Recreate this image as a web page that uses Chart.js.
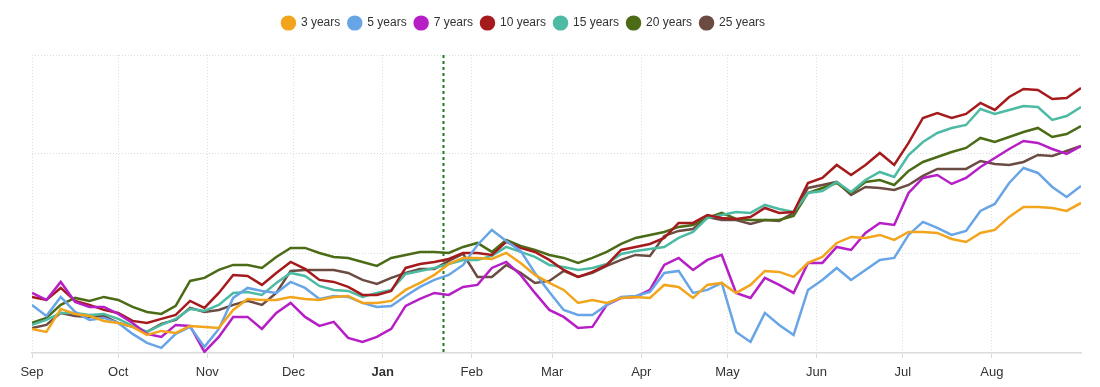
<!DOCTYPE html>
<html>
<head>
<meta charset="utf-8">
<title>Yields by maturity</title>
<script src="https://cdn.jsdelivr.net/npm/chart.js"></script>
<style>
  html, body { margin: 0; padding: 0; background: #fff; }
  #wrap { width: 1100px; height: 387px; position: relative; }
</style>
</head>
<body>
<div id="wrap"><canvas id="chart"></canvas></div>
<script>
/* days since 1 Sep, sampled every 5 days */
const DAYS = [];
for (let d = 0; d <= 360; d += 5) DAYS.push(d);
DAYS.push(365);

const MONTH_DAYS = [0, 30, 61, 91, 122, 153, 181, 212, 242, 273, 303, 334];
const MONTH_LABELS = ["Sep", "Oct", "Nov", "Dec", "Jan", "Feb", "Mar", "Apr", "May", "Jun", "Jul", "Aug"];
const Y_GRID = [0, 99, 199, 298];
const MARKER_DAY = 143;

const SERIES_NAMES = ["3 years", "5 years", "7 years", "10 years", "15 years", "20 years", "25 years"];
const SERIES_COLORS = ["#f2a51c", "#68a5e6", "#b61ec6", "#a51b1d", "#4dbba3", "#4b6b17", "#6b4b42"];

const y3 = [24, 21, 44, 39, 37, 32, 30, 26, 18, 22,
  20, 27, 26, 25, 43, 54, 53, 53, 56, 54,
  53, 56, 57, 50, 50, 52, 63, 70, 78, 89,
  95, 95, 94, 100, 90, 78, 70, 63, 50, 53,
  50, 55, 56, 55, 68, 66, 55, 68, 70, 60,
  68, 82, 81, 76, 90, 96, 110, 116, 115, 118,
  113, 121, 121, 120, 114, 111, 120, 123, 136, 146,
  146, 145, 142, 150];
const y5 = [48, 37, 56, 41, 33, 35, 30, 19, 10, 5,
  19, 26, 6, 24, 55, 65, 62, 60, 71, 65,
  54, 57, 56, 50, 46, 47, 57, 66, 73, 78,
  88, 108, 123, 112, 102, 80, 61, 43, 38, 38,
  48, 56, 57, 61, 80, 82, 60, 63, 70, 21,
  11, 40, 28, 18, 63, 73, 85, 73, 83, 93,
  95, 118, 131, 125, 118, 122, 142, 149, 170, 185,
  180, 166, 156, 167];
const y7 = [60, 53, 71, 51, 46, 46, 39, 30, 19, 16,
  28, 27, 1, 16, 36, 36, 24, 40, 50, 36,
  27, 31, 15, 11, 16, 24, 47, 54, 60, 58,
  66, 68, 85, 91, 78, 60, 43, 36, 25, 26,
  48, 55, 56, 63, 88, 95, 83, 93, 98, 60,
  55, 75, 68, 60, 90, 90, 106, 103, 120, 130,
  128, 160, 175, 178, 169, 175, 186, 195, 204, 212,
  210, 204, 199, 207];
const y10 = [56, 53, 65, 52, 48, 43, 40, 32, 30, 34,
  38, 52, 45, 60, 78, 77, 68, 80, 91, 84,
  73, 71, 66, 58, 58, 62, 85, 89, 91, 94,
  100, 100, 98, 111, 105, 101, 93, 83, 76, 81,
  88, 103, 106, 109, 115, 130, 130, 138, 135, 134,
  136, 145, 140, 141, 170, 175, 188, 178, 188, 200,
  188, 210, 235, 240, 235, 239, 250, 243, 256, 264,
  263, 254, 255, 265];
const y15 = [28, 33, 40, 40, 38, 39, 34, 27, 21, 28,
  34, 44, 42, 48, 60, 61, 58, 70, 80, 77,
  67, 63, 62, 56, 60, 63, 79, 82, 85, 89,
  93, 93, 97, 106, 101, 96, 88, 86, 83, 85,
  89, 99, 102, 104, 106, 115, 121, 135, 138, 141,
  140, 148, 144, 141, 160, 162, 171, 161, 173, 181,
  176, 198, 211, 220, 225, 228, 244, 239, 243, 247,
  246, 233, 237, 246];
const y20 = [30, 35, 48, 55, 52, 56, 53, 46, 41, 39,
  47, 72, 75, 83, 88, 88, 85, 96, 105, 105,
  100, 96, 95, 91, 87, 95, 98, 101, 101, 100,
  106, 110, 101, 113, 107, 103, 98, 95, 90, 95,
  101, 109, 115, 118, 121, 126, 128, 135, 140, 134,
  133, 133, 133, 137, 160, 165, 170, 160, 171, 173,
  168, 182, 191, 196, 201, 205, 215, 211, 216, 221,
  225, 216, 219, 227];
const y25 = [25, 28, 40, 37, 36, 37, 30, 26, 21, 29,
  33, 45, 41, 43, 48, 52, 48, 60, 82, 83,
  83, 83, 80, 73, 69, 75, 80, 84, 84, 92,
  99, 76, 76, 88, 80, 70, 72, 82, 76, 80,
  87, 93, 98, 97, 117, 122, 124, 136, 133, 133,
  129, 133, 132, 140, 165, 168, 171, 158, 166, 165,
  163, 168, 177, 184, 184, 184, 192, 189, 188, 191,
  198, 197, 202, 207];

const SERIES = [y3, y5, y7, y10, y15, y20, y25];

// vertical dotted marker line
const markerLine = {
  id: "markerLine",
  beforeDatasetsDraw(chart) {
    const { ctx, chartArea, scales } = chart;
    const x = Math.round(scales.x.getPixelForValue(MARKER_DAY)) + 0.5;
    ctx.save();
    ctx.strokeStyle = "#1f7a24";
    ctx.lineWidth = 2;
    ctx.setLineDash([3, 3]);
    ctx.beginPath();
    ctx.moveTo(x, chartArea.top);
    ctx.lineTo(x, chartArea.bottom);
    ctx.stroke();
    ctx.restore();
  },
};

// extra room between legend and plot, legend sits a bit left of centre
const legendGap = {
  id: "legendGap",
  beforeInit(chart) {
    const fit = chart.legend.fit;
    chart.legend.fit = function () { fit.call(this); this.height += 16; };
  },
  afterLayout(chart) {
    chart.legend.left -= 33;
    chart.legend.right -= 33;
  },
};

const datasets = SERIES.map((arr, i) => ({
  label: SERIES_NAMES[i],
  data: arr.map((v, j) => ({ x: DAYS[j], y: v })),
  borderColor: SERIES_COLORS[i],
  backgroundColor: SERIES_COLORS[i],
  borderWidth: 2.5,
  pointRadius: 0,
  tension: 0,
}));

Chart.defaults.font.family = "'Liberation Sans', Arial, sans-serif";

new Chart(document.getElementById("chart"), {
  type: "line",
  data: { datasets },
  options: {
    responsive: true,
    maintainAspectRatio: false,
    animation: false,
    layout: { padding: { top: 9, left: 32, right: 19, bottom: 0 } },
    plugins: {
      legend: {
        position: "top",
        labels: {
          usePointStyle: true,
          pointStyle: "circle",
          pointStyleWidth: 13,
          boxHeight: 9,
          padding: 8,
          color: "#333",
          font: { size: 12 },
        },
      },
      tooltip: { enabled: false },
    },
    scales: {
      x: {
        type: "linear",
        min: 0,
        max: 365,
        afterBuildTicks: (s) => { s.ticks = MONTH_DAYS.map((v) => ({ value: v })); },
        ticks: {
          autoSkip: false,
          maxRotation: 0,
          padding: 10,
          color: "#333",
          font: (c) => (c.tick && c.tick.value === 122
            ? { size: 13, weight: "bold", lineHeight: 0.7 }
            : { size: 13, lineHeight: 0.7 }),
          callback: (v) => MONTH_LABELS[MONTH_DAYS.indexOf(v)],
        },
        grid: { color: "#dedede", tickColor: "#d9d9d9", tickLength: 5 },
        border: { display: true, color: "#dcdcdc", width: 1.5, dash: [1, 2] },
      },
      y: {
        min: 0,
        max: 298,
        afterBuildTicks: (s) => { s.ticks = Y_GRID.map((v) => ({ value: v })); },
        ticks: { display: false },
        grid: { color: "#dcdcdc", drawTicks: false },
        border: { display: false, dash: [1, 2] },
      },
    },
  },
  plugins: [markerLine, legendGap],
});
</script>
</body>
</html>
